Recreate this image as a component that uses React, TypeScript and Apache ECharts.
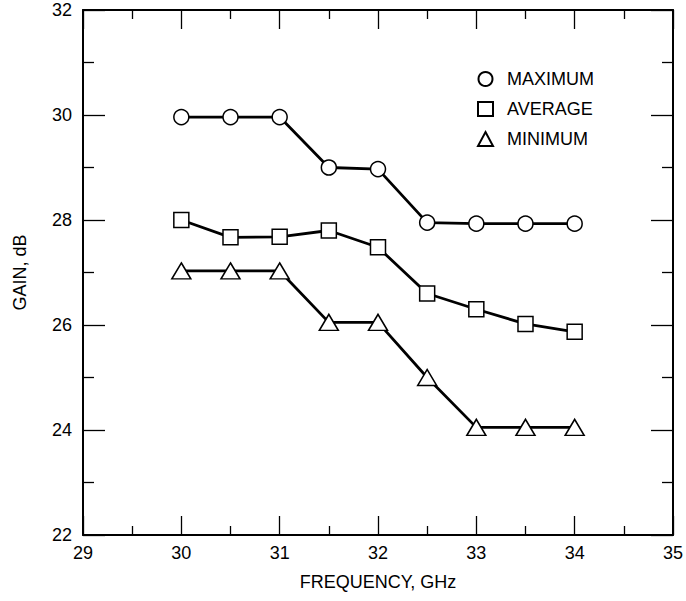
import React, { useEffect, useRef } from "react";
import * as echarts from "echarts";

const frequency = [30, 30.5, 31, 31.5, 32, 32.5, 33, 33.5, 34];
const maximum = [29.96, 29.96, 29.96, 29.0, 28.97, 27.95, 27.93, 27.93, 27.93];
const average = [28.0, 27.67, 27.68, 27.8, 27.48, 26.6, 26.3, 26.02, 25.87];
const minimum = [27.03, 27.03, 27.03, 26.05, 26.05, 25.0, 24.05, 24.05, 24.05];
const seriesNames = ["MAXIMUM", "AVERAGE", "MINIMUM"];

const FONT = "Liberation Sans, Arial, Helvetica, sans-serif";

export default function App() {
  const ref = useRef<HTMLDivElement>(null);
  useEffect(() => {
    if (!ref.current) return;
    const chart = echarts.init(ref.current, null, { renderer: "svg" });
    const pair = (ys: number[]) => frequency.map((x, i) => [x, ys[i]]);
    const markerStyle = { color: "#fff", borderColor: "#000", borderWidth: 1.5 };
    const lineBase = {
      type: "line" as const,
      lineStyle: { color: "#000", width: 2.8 },
      itemStyle: markerStyle,
      showAllSymbol: true,
      z: 3,
    };
    const xAxisBase = {
      type: "value" as const,
      min: 29,
      max: 35,
      interval: 1,
      axisLine: { show: true, onZero: false, lineStyle: { color: "#000", width: 2 } },
      splitLine: { show: false },
      minorTick: { show: true, splitNumber: 2, length: 9, lineStyle: { color: "#000", width: 1.3 } },
      axisTick: { show: true, inside: true, length: 19, lineStyle: { color: "#000", width: 1.3 } },
    };
    const yAxisBase = {
      type: "value" as const,
      min: 22,
      max: 32,
      interval: 2,
      axisLine: { show: true, onZero: false, lineStyle: { color: "#000", width: 2 } },
      splitLine: { show: false },
      minorTick: { show: true, splitNumber: 2, length: 11, lineStyle: { color: "#000", width: 1.3 } },
      axisTick: { show: true, inside: true, length: 22, lineStyle: { color: "#000", width: 1.3 } },
    };
    chart.setOption({
      animation: false,
      backgroundColor: "#fff",
      textStyle: { fontFamily: FONT, color: "#000" },
      grid: { left: 83, right: 6, top: 10, bottom: 66 },
      legend: {
        orient: "vertical",
        left: 472,
        top: 65,
        itemGap: 12,
        itemWidth: 15,
        itemHeight: 14,
        textStyle: { fontFamily: FONT, fontSize: 18, color: "#000", padding: [0, 0, 0, 9] },
        data: [
          { name: seriesNames[0], icon: "circle" },
          { name: seriesNames[1], icon: "rect" },
          { name: seriesNames[2], icon: "triangle" },
        ],
      },
      xAxis: [
        {
          ...xAxisBase,
          position: "bottom",
          name: "FREQUENCY, GHz",
          nameLocation: "middle",
          nameGap: 38,
          nameTextStyle: { fontFamily: FONT, fontSize: 18, color: "#000" },
          axisLabel: { show: true, margin: 9, fontFamily: FONT, fontSize: 18, color: "#000" },
        },
        {
          ...xAxisBase,
          position: "top",
          axisLabel: { show: false },
        },
      ],
      yAxis: [
        {
          ...yAxisBase,
          position: "left",
          name: "GAIN, dB",
          nameLocation: "middle",
          nameGap: 54,
          nameRotate: 90,
          nameTextStyle: { fontFamily: FONT, fontSize: 18, color: "#000" },
          axisLabel: { show: true, margin: 11, fontFamily: FONT, fontSize: 18, color: "#000" },
        },
        {
          ...yAxisBase,
          position: "right",
          axisLabel: { show: false },
        },
      ],
      series: [
        { ...lineBase, name: seriesNames[0], data: pair(maximum), symbol: "circle", symbolSize: 15 },
        { ...lineBase, name: seriesNames[1], data: pair(average), symbol: "rect", symbolSize: 15 },
        { ...lineBase, name: seriesNames[2], data: pair(minimum), symbol: "triangle", symbolSize: [19, 16] },
      ],
    });
    return () => chart.dispose();
  }, []);
  return <div ref={ref} style={{ width: 686, height: 601, position: "absolute", left: 0, top: 0 }} />;
}
